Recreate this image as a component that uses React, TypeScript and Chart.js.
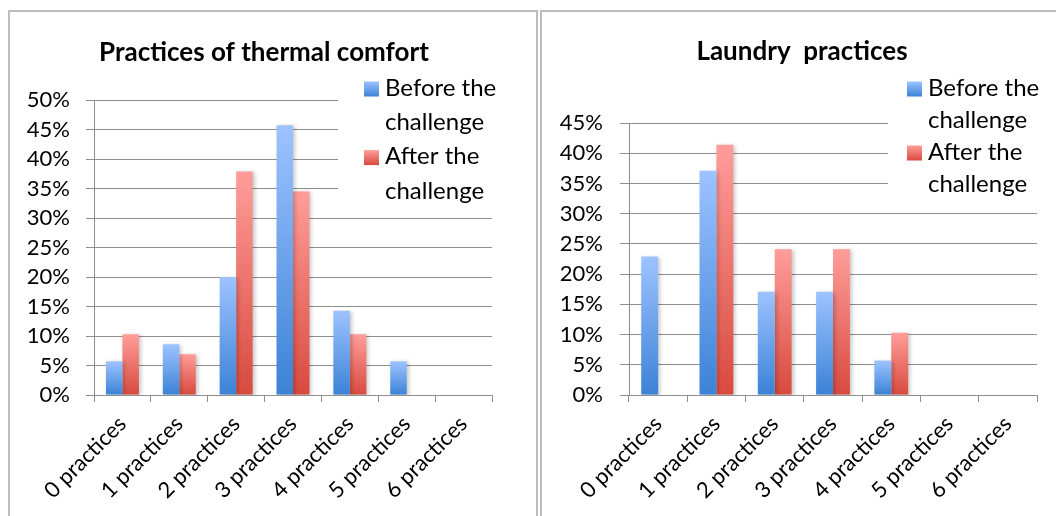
import { useEffect, useRef } from 'react';
import { Chart, registerables } from 'chart.js';

Chart.register(...registerables);

// Categories on the horizontal axis
const categories = [
  '0 practices',
  '1 practices',
  '2 practices',
  '3 practices',
  '4 practices',
  '5 practices',
  '6 practices',
];

// Legend entries (two lines each)
const beforeLabel = ['Before the', 'challenge'];
const afterLabel = ['After the', 'challenge'];

// Share of respondents (%)
const thermalBefore = [5.7, 8.6, 20.0, 45.7, 14.3, 5.7, 0];
const thermalAfter = [10.3, 6.9, 37.9, 34.5, 10.3, 0, 0];
const laundryBefore = [22.9, 37.1, 17.1, 17.1, 5.7, 0, 0];
const laundryAfter = [0, 41.4, 24.1, 24.1, 10.3, 0, 0];

// Value axis ranges
const thermalMax = 50;
const laundryMax = 45;
const tickStep = 5;

const FONT = 'Lato, "Open Sans", sans-serif';
const GRID = '#8e8e8e';
const BLUE = { top: '#9dc3ff', bottom: '#3b82d6' };
const RED = { top: '#ff9d9a', bottom: '#d84a3e' };

// Vertical gradient per bar, from its top down to the baseline
const barFill = (c: { top: string; bottom: string }) => (ctx: any) => {
  const chart = ctx.chart;
  const y = chart.scales && chart.scales.y;
  if (!y || ctx.type !== 'data') return c.bottom;
  const v = Number(ctx.raw) || 0;
  const y0 = y.getPixelForValue(0);
  const y1 = y.getPixelForValue(v);
  if (!isFinite(y0) || !isFinite(y1) || Math.abs(y0 - y1) < 1) return c.bottom;
  const g = chart.ctx.createLinearGradient(0, y1, 0, y0);
  g.addColorStop(0, c.top);
  g.addColorStop(1, c.bottom);
  return g;
};

// Soft drop shadow behind the bars
const shadowPlugin = {
  id: 'barShadow',
  beforeDatasetsDraw(chart: any) {
    const ctx = chart.ctx;
    ctx.save();
    ctx.shadowColor = 'rgba(0,0,0,0.22)';
    ctx.shadowBlur = 4;
    ctx.shadowOffsetX = 2;
    ctx.shadowOffsetY = 1;
  },
  afterDatasetsDraw(chart: any) {
    chart.ctx.restore();
  },
};

// Bold heading placed at a fixed point above the plot
const headingPlugin = {
  id: 'heading',
  afterDraw(chart: any, _args: any, opts: any) {
    const ctx = chart.ctx;
    ctx.save();
    ctx.font = `bold ${opts.fontSize}px ${FONT}`;
    ctx.fillStyle = '#000000';
    ctx.textAlign = 'center';
    ctx.textBaseline = 'middle';
    ctx.fillText(opts.text, opts.x, opts.y);
    ctx.restore();
  },
};

// Legend box with white background sitting over the plot's upper-right corner
const boxLegendPlugin = {
  id: 'boxLegend',
  afterDraw(chart: any, _args: any, opts: any) {
    const ctx = chart.ctx;
    ctx.save();
    ctx.fillStyle = '#ffffff';
    ctx.fillRect(opts.left, opts.top, chart.width - opts.left, opts.bottom - opts.top);
    ctx.font = `${opts.fontSize}px ${FONT}`;
    ctx.textBaseline = 'middle';
    ctx.textAlign = 'left';
    let line = 0;
    chart.data.datasets.forEach((ds: any, i: number) => {
      const lines: string[] = Array.isArray(ds.label) ? ds.label : [ds.label];
      const c = opts.colors[i];
      const y = opts.firstLine + line * opts.lineGap;
      const s = opts.swatch;
      const g = ctx.createLinearGradient(0, y + 1 - s / 2, 0, y + 1 + s / 2);
      g.addColorStop(0, c.top);
      g.addColorStop(1, c.bottom);
      ctx.fillStyle = g;
      ctx.fillRect(opts.swatchX, y + 1 - s / 2, s, s);
      ctx.fillStyle = '#000000';
      lines.forEach((t) => {
        ctx.fillText(t, opts.textX, opts.firstLine + line * opts.lineGap);
        line += 1;
      });
    });
    ctx.restore();
  },
};

type PanelProps = {
  title: string;
  before: number[];
  after: number[];
  max: number;
  width: number;
  height: number;
  padRight: number;
  plotTop: number;
  plotBottom: number;
  yAxisWidth: number;
  yTickLen: number;
  yTickPad: number;
  heading: any;
  legend: any;
};

function BarPanel(p: PanelProps) {
  const ref = useRef<HTMLCanvasElement | null>(null);

  useEffect(() => {
    if (!ref.current) return;
    const chart = new Chart(ref.current, {
      type: 'bar',
      data: {
        labels: categories,
        datasets: [
          {
            label: beforeLabel as any,
            data: p.before,
            backgroundColor: barFill(BLUE) as any,
            borderWidth: 0,
            categoryPercentage: 0.58,
            barPercentage: 1,
          },
          {
            label: afterLabel as any,
            data: p.after,
            backgroundColor: barFill(RED) as any,
            borderWidth: 0,
            categoryPercentage: 0.58,
            barPercentage: 1,
          },
        ],
      },
      options: {
        responsive: false,
        maintainAspectRatio: false,
        animation: false,
        devicePixelRatio: 1,
        layout: { padding: { left: 0, right: p.padRight, top: p.plotTop, bottom: 0 } },
        plugins: {
          legend: { display: false },
          tooltip: { enabled: false },
          title: { display: false },
          heading: { text: p.title, ...p.heading },
          boxLegend: p.legend,
        } as any,
        scales: {
          x: {
            offset: true,
            grid: {
              display: true,
              offset: true,
              drawOnChartArea: false,
              drawTicks: true,
              tickLength: 7,
              color: GRID,
            },
            border: { display: true, color: GRID },
            ticks: {
              autoSkip: false,
              maxRotation: 45,
              minRotation: 45,
              padding: 9,
              color: '#000000',
              font: { family: FONT, size: 22 },
            },
            afterFit: (scale: any) => {
              scale.height = p.height - p.plotBottom;
            },
          },
          y: {
            min: 0,
            max: p.max,
            grid: {
              color: GRID,
              tickLength: p.yTickLen,
              drawTicks: true,
            },
            border: { display: true, color: GRID },
            ticks: {
              stepSize: tickStep,
              padding: p.yTickPad,
              color: '#000000',
              font: { family: FONT, size: 22 },
              callback: (v: any) => `${v}%`,
            },
            afterFit: (scale: any) => {
              scale.width = p.yAxisWidth;
            },
          },
        },
      },
      plugins: [shadowPlugin, boxLegendPlugin, headingPlugin],
    });
    return () => chart.destroy();
  }, []);

  return <canvas ref={ref} width={p.width} height={p.height} style={{ display: 'block' }} />;
}

export default function App() {
  const frame = '2px solid #bdbdbd';
  return (
    <div style={{ fontFamily: FONT }}>
      <div
        style={{
          position: 'absolute',
          left: 8,
          top: 10,
          width: 526,
          height: 504,
          borderLeft: frame,
          borderTop: frame,
          borderRight: frame,
          background: '#ffffff',
        }}
      >
        <BarPanel
          title="Practices of thermal comfort"
          before={thermalBefore}
          after={thermalAfter}
          max={thermalMax}
          width={526}
          height={504}
          padRight={44}
          plotTop={88}
          plotBottom={383}
          yAxisWidth={84}
          yTickLen={8}
          yTickPad={16}
          heading={{ x: 254, y: 41, fontSize: 26 }}
          legend={{
            left: 328,
            top: 55,
            bottom: 196,
            swatch: 15,
            swatchX: 354,
            textX: 375,
            firstLine: 76,
            lineGap: 34.3,
            fontSize: 24,
            colors: [BLUE, RED],
          }}
        />
      </div>
      <div
        style={{
          position: 'absolute',
          left: 540,
          top: 10,
          width: 514,
          height: 504,
          borderLeft: frame,
          borderTop: frame,
          background: '#ffffff',
        }}
      >
        <BarPanel
          title="Laundry  practices"
          before={laundryBefore}
          after={laundryAfter}
          max={laundryMax}
          width={514}
          height={504}
          padRight={19}
          plotTop={111}
          plotBottom={383}
          yAxisWidth={87}
          yTickLen={9}
          yTickPad={17}
          heading={{ x: 260, y: 40, fontSize: 26 }}
          legend={{
            left: 346,
            top: 55,
            bottom: 192,
            swatch: 15,
            swatchX: 365,
            textX: 386,
            firstLine: 76,
            lineGap: 32,
            fontSize: 24,
            colors: [BLUE, RED],
          }}
        />
      </div>
    </div>
  );
}
